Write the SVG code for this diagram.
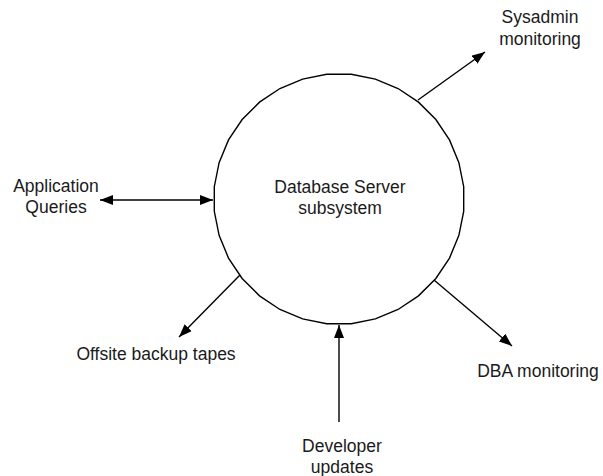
<svg xmlns="http://www.w3.org/2000/svg" width="603" height="476" viewBox="0 0 603 476">
  <style>
    .lbl { font-family: "Liberation Sans", Arial, Helvetica, sans-serif; font-size: 17.5px; fill: #1a1a1a; text-anchor: middle; }
    .edge { fill: none; stroke: #000; stroke-width: 1.4; }
    .boundary { fill: #fff; stroke: #000; stroke-width: 1.4; }
  </style>
  <defs>
    <marker id="arrow" markerUnits="userSpaceOnUse" markerWidth="14" markerHeight="11" refX="13" refY="5" orient="auto-start-reverse">
      <path d="M0,0 L13,5 L0,10 Z" fill="#000"/>
    </marker>
  </defs>
  <rect width="603" height="476" fill="#fff"/>

  <!-- Central process bubble -->
  <g id="database-server">
    <polygon class="boundary" points="463.70,211.28 458.90,235.37 449.50,258.07 435.86,278.49 418.49,295.86 398.07,309.50 375.37,318.90 351.28,323.70 326.72,323.70 302.63,318.90 279.93,309.50 259.51,295.86 242.14,278.49 228.50,258.07 219.10,235.37 214.30,211.28 214.30,186.72 219.10,162.63 228.50,139.93 242.14,119.51 259.51,102.14 279.93,88.50 302.63,79.10 326.72,74.30 351.28,74.30 375.37,79.10 398.07,88.50 418.49,102.14 435.86,119.51 449.50,139.93 458.90,162.63 463.70,186.72"/>
    <text class="lbl" x="340" y="193">Database Server</text>
    <text class="lbl" x="340" y="214">subsystem</text>
  </g>

  <!-- External entities -->
  <g id="sysadmin">
    <text class="lbl" x="540" y="23">Sysadmin</text>
    <text class="lbl" x="540" y="45">monitoring</text>
  </g>
  <g id="app-queries">
    <text class="lbl" x="56" y="192">Application</text>
    <text class="lbl" x="56" y="213">Queries</text>
  </g>
  <g id="offsite-backup">
    <text class="lbl" x="156" y="360">Offsite backup tapes</text>
  </g>
  <g id="dba">
    <text class="lbl" x="538" y="377">DBA monitoring</text>
  </g>
  <g id="developer">
    <text class="lbl" x="342" y="452">Developer</text>
    <text class="lbl" x="342" y="473">updates</text>
  </g>

  <!-- Data flows -->
  <g id="connectors">
    <line class="edge" x1="418" y1="100" x2="485" y2="52" marker-end="url(#arrow)"/>
    <line class="edge" x1="100" y1="200" x2="213" y2="200" marker-start="url(#arrow)" marker-end="url(#arrow)"/>
    <line class="edge" x1="240" y1="275" x2="179" y2="337" marker-end="url(#arrow)"/>
    <line class="edge" x1="434" y1="280" x2="512" y2="346" marker-end="url(#arrow)"/>
    <line class="edge" x1="339" y1="422" x2="339" y2="325" marker-end="url(#arrow)"/>
  </g>
</svg>
